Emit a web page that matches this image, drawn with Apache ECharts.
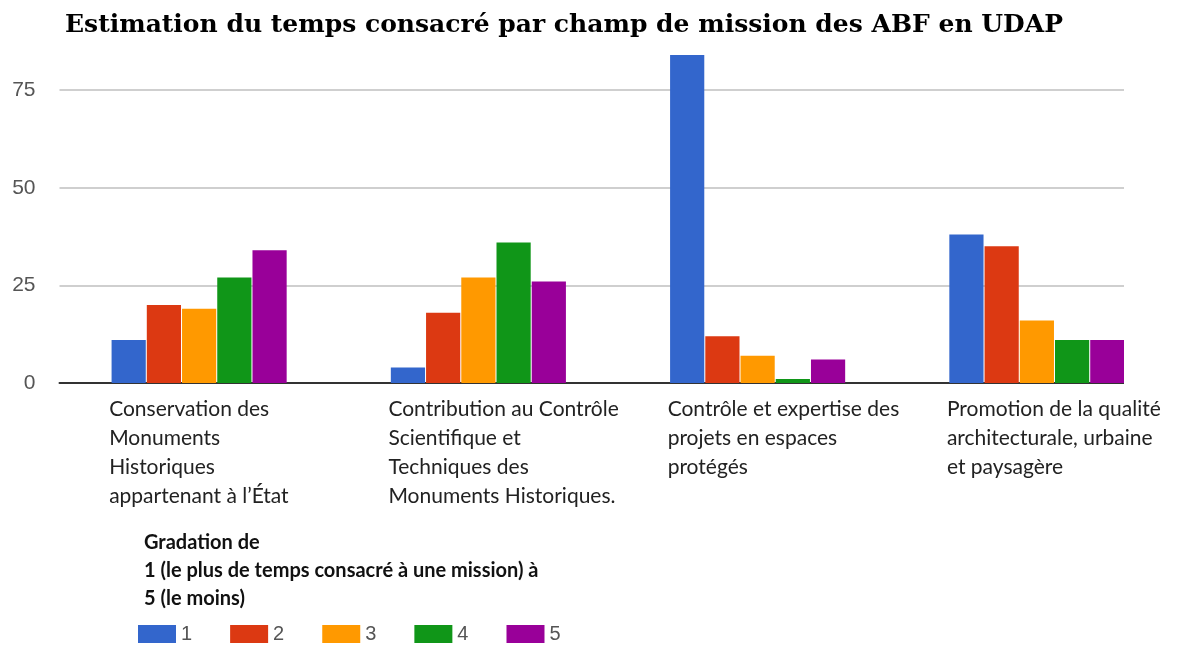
<!DOCTYPE html>
<html>
<head>
<meta charset="utf-8">
<title>Estimation du temps consacré par champ de mission des ABF en UDAP</title>
<script src="https://cdn.jsdelivr.net/npm/echarts@6/dist/echarts.min.js"></script>
<style>
  html, body { margin: 0; padding: 0; background: #fff; }
  #chart { width: 1188px; height: 645px; }
</style>
</head>
<body>
<div id="chart"></div>
<script>
// categories (one label line per entry)
const categories = [
  'Conservation des\nMonuments\nHistoriques\nappartenant à l’État',
  'Contribution au Contrôle\nScientifique et\nTechniques des\nMonuments Historiques.',
  'Contrôle et expertise des\nprojets en espaces\nprotégés',
  'Promotion de la qualité\narchitecturale, urbaine\net paysagère'
]
const gradations = ['1', '2', '3', '4', '5']
// values per gradation, one per category
const grade1 = [11, 4, 84, 38]
const grade2 = [20, 18, 12, 35]
const grade3 = [19, 27, 7, 16]
const grade4 = [27, 36, 1, 11]
const grade5 = [34, 26, 6, 11]
const yTicks = [0, 25, 50, 75]

const colors = ['#3366cc', '#dc3912', '#ff9900', '#109618', '#990099']
const labelFont = 'Lato, "Liberation Sans", sans-serif'

let myChart = echarts.init(document.getElementById('chart'))

const seriesData = [grade1, grade2, grade3, grade4, grade5]

myChart.setOption({
  color: colors,
  animation: false,
  title: [
    {
      text: 'Estimation du temps consacré par champ de mission des ABF en UDAP',
      left: 60,
      top: 8,
      textStyle: {
        fontFamily: '"DejaVu Serif", serif',
        fontSize: 25,
        fontWeight: 'bold',
        color: '#000'
      }
    },
    {
      text: 'Gradation de\n1 (le plus de temps consacré à une mission) à\n5 (le moins)',
      left: 139,
      top: 524,
      textStyle: {
        fontFamily: labelFont,
        fontSize: 20,
        fontWeight: 'bold',
        lineHeight: 28,
        color: '#111'
      }
    }
  ],
  legend: {
    data: gradations,
    left: 138,
    top: 624,
    padding: 0,
    icon: 'rect',
    itemWidth: 38,
    itemHeight: 18,
    itemGap: 38,
    textStyle: {
      fontFamily: '"Liberation Sans", Arial, sans-serif',
      fontSize: 20,
      color: '#555',
      width: 15
    }
  },
  grid: {
    left: 59.5,
    right: 11.5,
    top: 55,
    bottom: 262
  },
  xAxis: {
    type: 'category',
    data: categories,
    axisTick: { show: false },
    axisLine: {
      lineStyle: { color: '#333', width: 2 }
    },
    axisLabel: {
      interval: 0,
      margin: 12,
      align: 'center',
      verticalAlign: 'top',
      // left aligned block starting at the first bar of the group
      formatter: function (value) {
        return value.split('\n').map(function (l) { return '{t|' + l + '}' }).join('\n')
      },
      rich: {
        t: {
          width: 180,
          align: 'left',
          fontFamily: labelFont,
          fontSize: 21,
          lineHeight: 29,
          color: '#222'
        }
      }
    }
  },
  yAxis: {
    type: 'value',
    min: 0,
    max: 84,
    interval: 25,
    axisLine: { show: false },
    axisTick: { show: false },
    axisLabel: {
      margin: 24,
      fontFamily: '"Liberation Sans", Arial, sans-serif',
      fontSize: 21,
      color: '#555',
      showMaxLabel: false,
      formatter: function (v) { return yTicks.indexOf(v) >= 0 ? String(v) : '' }
    },
    splitLine: {
      showMaxLine: false,
      lineStyle: { color: '#cfcfcf', width: 2 }
    }
  },
  // the source picture is cut right of the last group
  graphic: [
    {
      type: 'rect',
      z: 100,
      shape: { x: 1124, y: 45, width: 64, height: 342 },
      style: { fill: '#fff' }
    }
  ],
  series: gradations.map(function (g, i) {
    return {
      name: g,
      type: 'bar',
      data: seriesData[i],
      barGap: '3%',
      barCategoryGap: '37.3%',
      itemStyle: { color: colors[i] }
    }
  })
})
</script>
</body>
</html>
